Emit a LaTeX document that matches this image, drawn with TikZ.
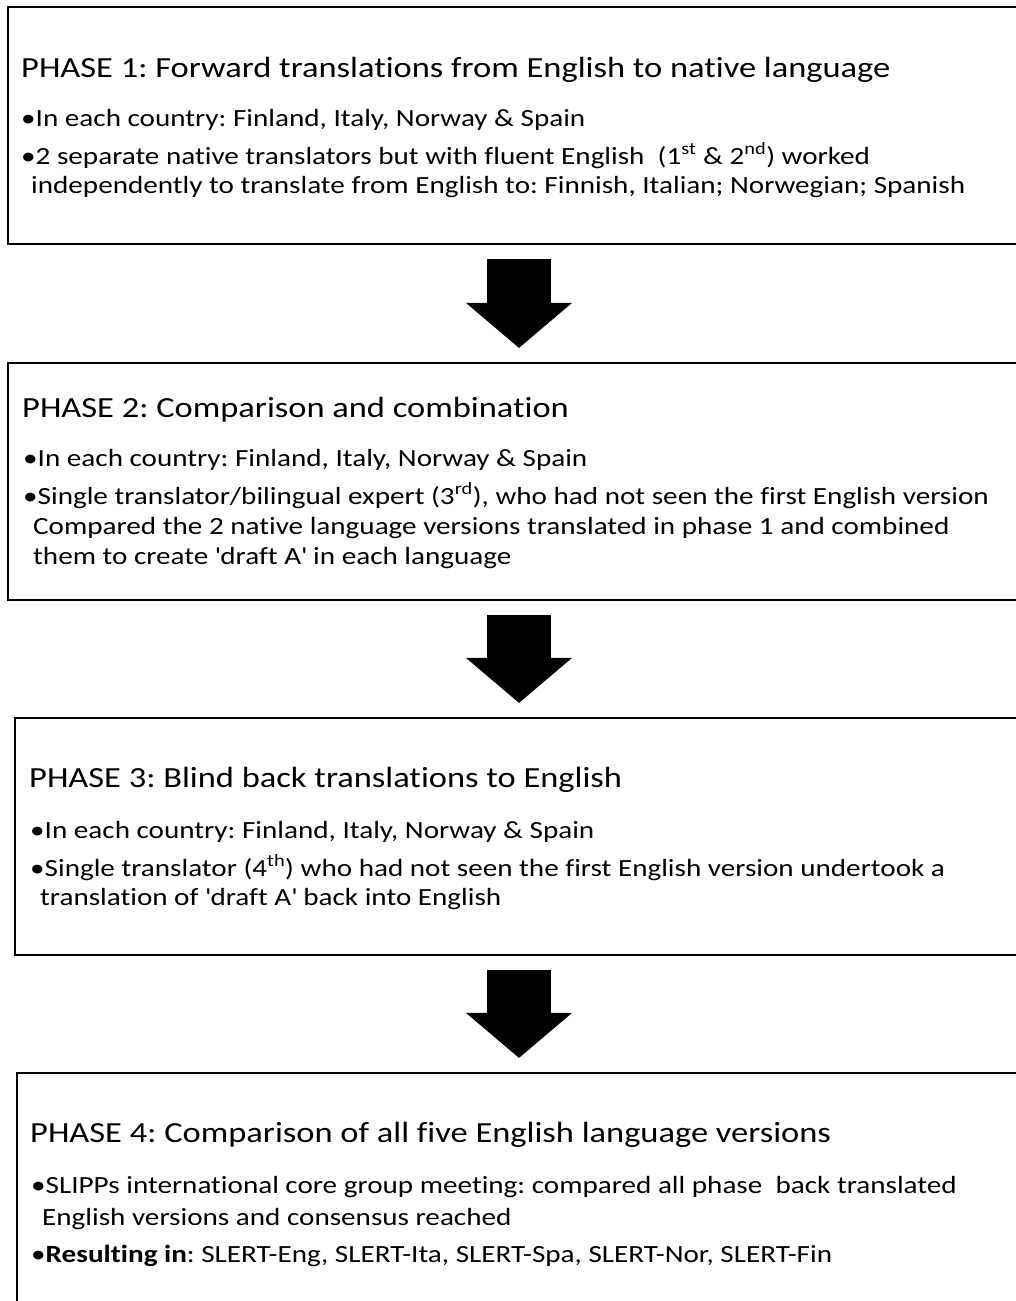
\documentclass[tikz,border=0pt]{standalone}
\usepackage{fontspec}
\setmainfont{Carlito}[FakeStretch=1.18,Ligatures=NoCommon]
\usepackage{tikz}
\usetikzlibrary{arrows.meta}
\frenchspacing

\begin{document}
\begin{tikzpicture}[x=1pt,y=-1pt,
	phasebox/.style={draw,line width=2.2pt,minimum height=237pt,inner sep=0pt},
	phasetitle/.style={anchor=base west,inner sep=0pt,font=\fontsize{29.2}{35}\selectfont},
	phaseline/.style={anchor=base west,inner sep=0pt,font=\fontsize{24.7}{30}\selectfont},
	bigarrow/.style={line width=64pt,-{Triangle[length=45pt,width=106pt,line width=0pt]},shorten <=14pt,shorten >=14pt}]
		\useasboundingbox (0,0) rectangle (1016,1301);
		
		\begin{scope}[every node/.style={phasebox}]
			\node[minimum width=1022pt] (phase1) at (519,125.5) {};
			\node[minimum width=1022pt] (phase2) at (519,481.5) {};
			\node[minimum width=1008pt] (phase3) at (519,836.5) {};
			\node[minimum width=1004pt] (phase4) at (519,1191.5) {};
		\end{scope}
		
		\begin{scope}[every node/.style={phasetitle}]
			\node (title1) at (21,77) {PHASE 1: Forward translations from English to native language};
			\node (title2) at (22,417) {PHASE 2: Comparison and combination};
			\node (title3) at (29,787) {PHASE 3: Blind back translations to English};
			\node (title4) at (30,1142) {PHASE 4: Comparison of all five English language versions};
		\end{scope}
		
		\begin{scope}[every node/.style={phaseline}]
			\node (line1a) at (21,126) {•In each country: Finland, Italy, Norway \& Spain};
			\node (line1b) at (21,164) {•2 separate native translators but with fluent English\ \ (1\textsuperscript{st} \& 2\textsuperscript{nd}) worked};
			\node (line1c) at (31,193) {independently to translate from English to: Finnish, Italian; Norwegian; Spanish};
			
			\node (line2a) at (23,466) {•In each country: Finland, Italy, Norway \& Spain};
			\node (line2b) at (23,504) {•Single translator/bilingual expert (3\textsuperscript{rd}), who had not seen the first English version};
			\node (line2c) at (33,534) {Compared the 2 native language versions translated in phase 1 and combined};
			\node (line2d) at (33,564) {them to create \textquotesingle draft A\textquotesingle{} in each language};
			
			\node (line3a) at (30,838) {•In each country: Finland, Italy, Norway \& Spain};
			\node (line3b) at (30,876) {•Single translator (4\textsuperscript{th}) who had not seen the first English version undertook a};
			\node (line3c) at (40,905) {translation of \textquotesingle draft A\textquotesingle{} back into English};
			
			\node (line4a) at (31,1193) {•SLIPPs international core group meeting: compared all phase\ \ back translated};
			\node (line4b) at (42,1225) {English versions and consensus reached};
			\node (line4c) at (31,1262) {•\textbf{Resulting in}: SLERT-Eng, SLERT-Ita, SLERT-Spa, SLERT-Nor, SLERT-Fin};
		\end{scope}
		
		\begin{scope}
			\draw[bigarrow] (phase1) -- (phase2);
			\draw[bigarrow] (phase2) -- (phase3);
			\draw[bigarrow] (phase3) -- (phase4);
		\end{scope}
	\end{tikzpicture}
\end{document}
